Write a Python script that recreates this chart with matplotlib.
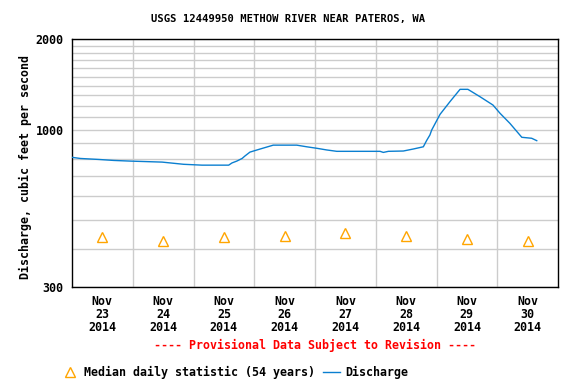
import numpy as np
import matplotlib
matplotlib.use('Agg')
import matplotlib.pyplot as plt
from matplotlib.ticker import FixedLocator, NullFormatter
from matplotlib.lines import Line2D

# discharge, hours after Nov 23 2014 00:00 vs cubic feet per second
hours = [0, 3.3, 10.5, 16.5, 23, 35.6, 44.1, 51.4, 61.9, 63.2, 65.1, 67.2, 68.3,
         70.3, 74.3, 79.5, 88.8, 92.7, 96.7, 100.6, 104.6, 121.7, 123, 125,
         130.9, 134.8, 138.8, 140.1, 141.4, 142.1, 145.4, 149.3, 153.3, 156.4,
         161.2, 166.3, 169.1, 173, 177.7, 181.6, 183.6]
discharge = [809, 802, 796, 790, 786, 780, 767, 762, 762, 775, 786, 802, 817,
             842, 862, 888, 888, 877, 867, 856, 847, 847, 840, 847,
             849, 862, 877, 920, 960, 997, 1124, 1238, 1361, 1361,
             1286, 1207, 1133, 1049, 943, 936, 919]

# median daily statistic at noon of each day
median_hours = [12, 36, 60, 84, 108, 132, 156, 180]
median_vals = [439, 426, 439, 442, 452, 442, 433, 428]

day_labels = ['Nov\n23\n2014', 'Nov\n24\n2014', 'Nov\n25\n2014', 'Nov\n26\n2014',
              'Nov\n27\n2014', 'Nov\n28\n2014', 'Nov\n29\n2014', 'Nov\n30\n2014']

font = {'family': 'DejaVu Sans Mono', 'weight': 'bold', 'size': 8.4}
plt.rcParams['font.family'] = 'DejaVu Sans Mono'
plt.rcParams['font.weight'] = 'bold'

fig = plt.figure(figsize=(5.76, 3.84), dpi=100)
ax = fig.add_axes([0.125, 0.2526, 0.84375, 0.6458])

blue = '#0a7fd0'
orange = '#ffa500'
grid = '#cccccc'

ax.plot(hours, discharge, color=blue, lw=1.0, zorder=3)
ax.plot(median_hours, median_vals, ls='none', marker='^', ms=7.5,
        mfc='none', mec=orange, mew=1.0, zorder=3)

ax.set_yscale('log')
ax.set_ylim(300, 2000)
ax.set_xlim(0, 192)

ax.yaxis.set_major_locator(FixedLocator([300, 1000, 2000]))
ax.set_yticklabels(['300', '1000', '2000'], fontdict=font)
ax.yaxis.set_minor_locator(FixedLocator(list(range(400, 1000, 100)) + list(range(1100, 2000, 100))))
ax.yaxis.set_minor_formatter(NullFormatter())

ax.set_xticks(median_hours)
ax.set_xticklabels(day_labels, fontdict=font)
for lbl in ax.get_xticklabels():
    lbl.set_linespacing(1.0)
ax.xaxis.set_minor_locator(FixedLocator(np.arange(24, 192, 24)))

ax.tick_params(which='both', length=0)
ax.tick_params(axis='x', pad=6)
ax.tick_params(axis='y', pad=6)

ax.grid(True, which='minor', color=grid, lw=1.0, zorder=0)
ax.grid(True, which='major', axis='y', color=grid, lw=1.0, zorder=0)
ax.set_axisbelow(True)
for s in ax.spines.values():
    s.set_color('black')
    s.set_linewidth(1.0)

fig.text(0.5, 0.95, 'USGS 12449950 METHOW RIVER NEAR PATEROS, WA',
         ha='center', va='center', fontsize=7.6, fontweight='bold')
fig.text(0.0434, 0.566, 'Discharge, cubic feet per second', rotation=90,
         ha='center', va='center', fontsize=8.4, fontweight='bold')
fig.text(0.547, 0.0997, '---- Provisional Data Subject to Revision ----',
         ha='center', va='center', fontsize=8.4, fontweight='bold', color='red')

handles = [Line2D([], [], ls='none', marker='^', ms=7.5, mfc='none', mec=orange, mew=1.0),
           Line2D([], [], color=blue, lw=1.0)]
fig.legend(handles, ['Median daily statistic (54 years)', 'Discharge'],
           loc='center left', bbox_to_anchor=(0.1068, 0.0294), ncol=2,
           frameon=False, borderpad=0, borderaxespad=0, handlelength=1.46,
           handletextpad=0.45, columnspacing=0.69,
           prop={'family': 'DejaVu Sans Mono', 'weight': 'bold', 'size': 8.4})

fig.savefig('out.png', dpi=100)
